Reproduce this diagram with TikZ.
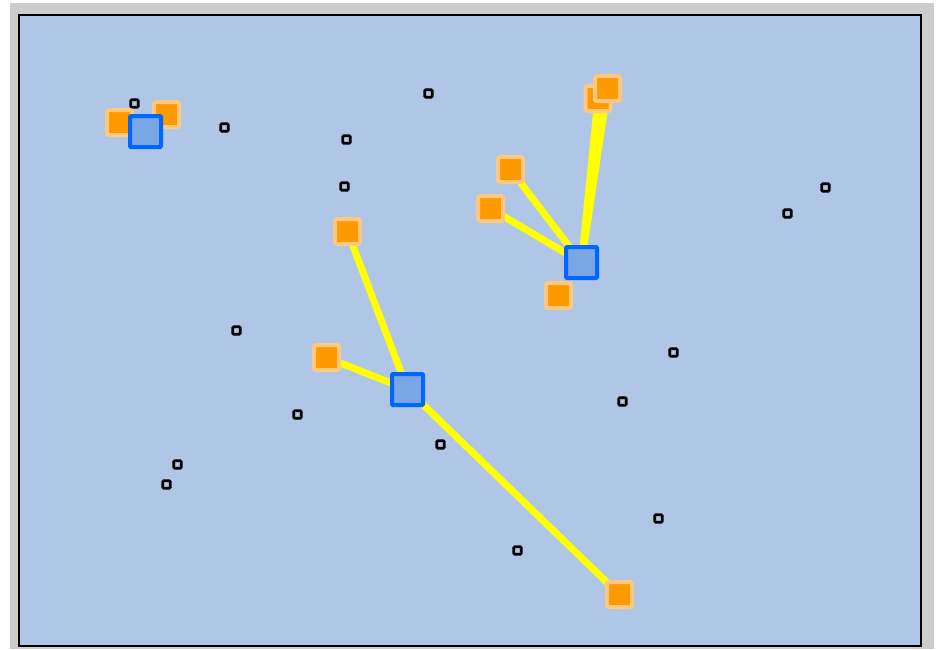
\documentclass[tikz,border=0pt]{standalone}
\begin{document}
\begin{tikzpicture}[x=1pt,y=-1pt,
  dot/.style={draw=black,line width=2.6pt,fill=bgblue,minimum size=7.5pt,inner sep=0pt,rounded corners=1pt},
  tgt/.style={draw=olight,line width=4pt,fill=ofill,minimum size=25pt,inner sep=0pt,rounded corners=2pt},
  hub/.style={draw=hubborder,line width=4pt,fill=hubfill,minimum size=31pt,inner sep=0pt,rounded corners=1pt},
  link/.style={draw=yel,line width=7pt}]
\definecolor{bgblue}{HTML}{B0C6E6}
\definecolor{olight}{HTML}{FFC880}
\definecolor{ofill}{HTML}{FF9900}
\definecolor{hubborder}{HTML}{0066FF}
\definecolor{hubfill}{HTML}{7AA6E6}
\definecolor{yel}{HTML}{FFFF00}
\useasboundingbox (0,0) rectangle (938,649);
\fill[white] (0,0) rectangle (938,649);
\fill[black!20] (10,3) rectangle (934,649);
\draw[line width=2pt,fill=bgblue] (19,15) rectangle (921,646);
% small squares
\node[dot] (s1) at (134.5,103.5) {};
\node[dot] (s2) at (224.5,127.5) {};
\node[dot] (s3) at (428.5,93.5) {};
\node[dot] (s4) at (346.5,139.5) {};
\node[dot] (s5) at (344.5,186.5) {};
\node[dot] (s6) at (236.5,330.5) {};
\node[dot] (s7) at (297.5,414.5) {};
\node[dot] (s8) at (177.5,464.5) {};
\node[dot] (s9) at (166.5,484.5) {};
\node[dot] (s10) at (440.5,444.5) {};
\node[dot] (s11) at (517.5,550.5) {};
\node[dot] (s12) at (658.5,518.5) {};
\node[dot] (s13) at (622.5,401.5) {};
\node[dot] (s14) at (673.5,352.5) {};
\node[dot] (s15) at (787.5,213.5) {};
\node[dot] (s16) at (825.5,187.5) {};
\node[dot] (s17) at (549.5,292.5) {};
% hub coordinates
\coordinate (hA) at (145.5,131.5);
\coordinate (hB) at (581.5,262.5);
\coordinate (hC) at (407.5,389.5);
\coordinate (oA1) at (119.5,122.5);
\coordinate (oA2) at (166.5,114.5);
\coordinate (oB1) at (598,98.5);
\coordinate (oB2) at (607.5,88.5);
\coordinate (oB3) at (510.5,169.5);
\coordinate (oB4) at (490.5,208.5);
\coordinate (oB5) at (558.5,295.5);
\coordinate (oC1) at (347.5,231.5);
\coordinate (oC2) at (326.5,357.5);
\coordinate (oC3) at (619.5,594.5);
% links
\draw[link] (hB) -- (oB1);
\draw[link] (hB) -- (oB2);
\draw[link] (hB) -- (oB3);
\draw[link] (hB) -- (oB4);
\draw[link] (hC) -- (oC1);
\draw[link] (hC) -- (oC2);
\draw[link] (hC) -- (oC3);
% targets
\node[tgt] (tA1) at (oA1) {};
\node[tgt] (tA2) at (oA2) {};
\node[tgt] (tB1) at (oB1) {};
\node[tgt] (tB2) at (oB2) {};
\node[tgt] (tB3) at (oB3) {};
\node[tgt] (tB4) at (oB4) {};
\node[tgt] (tB5) at (oB5) {};
\node[tgt] (tC1) at (oC1) {};
\node[tgt] (tC2) at (oC2) {};
\node[tgt] (tC3) at (oC3) {};
% hubs
\node[hub] (HA) at (hA) {};
\node[hub] (HB) at (hB) {};
\node[hub] (HC) at (hC) {};
\end{tikzpicture}
\end{document}
